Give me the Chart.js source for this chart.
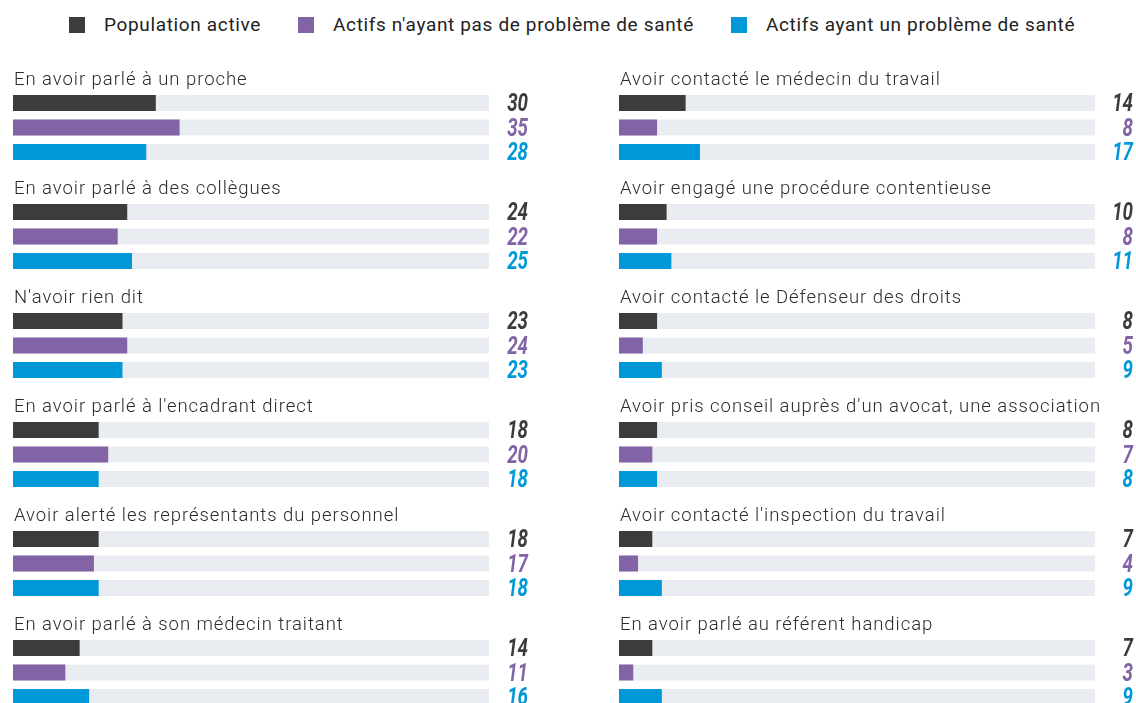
<!DOCTYPE html>
<html lang="fr">
<head>
  <meta charset="UTF-8">
  <title>Réactions face à une discrimination</title>
  <script src="https://cdn.jsdelivr.net/npm/chart.js"></script>
  <style>
    body {
      margin: 0;
      padding: 0;
      background: #fff;
      width: 1136px;
      height: 703px;
      overflow: hidden;
      position: relative;
      font-family: Roboto, "Noto Sans", sans-serif;
      color: #333;
    }
    .legend {
      position: absolute;
      top: 12px;
      left: 69px;
      display: flex;
      font-size: 19px;
      letter-spacing: 0.65px;
      line-height: 26px;
      color: #222;
    }
    .legend span.item { display: flex; align-items: center; margin-right: 37px; }
    .legend span.box { width: 16px; height: 16px; display: inline-block; margin-right: 19px; }
    .col { position: absolute; top: 60px; height: 680px; }
    #left { left: 0; width: 560px; }
    #right { left: 560px; width: 576px; }
  </style>
</head>
<body>
  <div class="legend" id="legend"></div>
  <div class="col" id="left"><canvas id="chartLeft"></canvas></div>
  <div class="col" id="right"><canvas id="chartRight"></canvas></div>

  <script>
    // series names and colours
    const seriesNames = ['Population active', "Actifs n'ayant pas de problème de santé", 'Actifs ayant un problème de santé'];
    const seriesColors = ['#3c3c3c', '#8163a6', '#0098d8'];

    // left column
    const leftLabels = [
      'En avoir parlé à un proche',
      'En avoir parlé à des collègues',
      "N'avoir rien dit",
      "En avoir parlé à l'encadrant direct",
      'Avoir alerté les représentants du personnel',
      'En avoir parlé à son médecin traitant'
    ];
    const leftPopulation = [30, 24, 23, 18, 18, 14];
    const leftSansProbleme = [35, 22, 24, 20, 17, 11];
    const leftAvecProbleme = [28, 25, 23, 18, 18, 16];

    // right column
    const rightLabels = [
      'Avoir contacté le médecin du travail',
      'Avoir engagé une procédure contentieuse',
      'Avoir contacté le Défenseur des droits',
      "Avoir pris conseil auprès d'un avocat, une association",
      "Avoir contacté l'inspection du travail",
      'En avoir parlé au référent handicap'
    ];
    const rightPopulation = [14, 10, 8, 8, 7, 7];
    const rightSansProbleme = [8, 8, 5, 7, 4, 3];
    const rightAvecProbleme = [17, 11, 9, 8, 9, 9];

    const trackColor = '#e9ecf1';

    // legend
    const legendEl = document.getElementById('legend');
    seriesNames.forEach((name, i) => {
      const item = document.createElement('span');
      item.className = 'item';
      item.innerHTML = '<span class="box" style="background:' + seriesColors[i] + '"></span>' + name;
      legendEl.appendChild(item);
    });

    // draws grey tracks behind bars, group titles and the values
    const decorations = {
      id: 'decorations',
      beforeDatasetsDraw(chart) {
        const ctx = chart.ctx;
        const x = chart.scales.x;
        const x0 = x.getPixelForValue(0);
        const x1 = x.getPixelForValue(100);
        ctx.save();
        ctx.fillStyle = trackColor;
        chart.data.datasets.forEach((ds, i) => {
          chart.getDatasetMeta(i).data.forEach(bar => {
            ctx.fillRect(x0, bar.y - bar.height / 2, x1 - x0, bar.height);
          });
        });
        ctx.restore();
      },
      afterDatasetsDraw(chart, args, opts) {
        const ctx = chart.ctx;
        const area = chart.chartArea;
        // values, condensed by squeezing horizontally
        const squeeze = 0.75;
        chart.data.datasets.forEach((ds, i) => {
          chart.getDatasetMeta(i).data.forEach((bar, j) => {
            ctx.save();
            ctx.translate(area.right + opts.valueOffset, bar.y + 8);
            ctx.scale(squeeze, 1);
            ctx.font = 'italic bold 25px Roboto, "DejaVu Sans", sans-serif';
            ctx.textAlign = 'right';
            ctx.textBaseline = 'alphabetic';
            ctx.fillStyle = ds.backgroundColor;
            ctx.fillText(ds.data[j], 0, 0);
            ctx.restore();
          });
        });
        // group titles
        ctx.save();
        ctx.font = '300 18.5px Roboto, "Noto Sans", sans-serif';
        ctx.letterSpacing = '0.95px';
        ctx.textAlign = 'left';
        ctx.textBaseline = 'alphabetic';
        ctx.fillStyle = '#2b2b2b';
        const first = chart.getDatasetMeta(0).data;
        chart.data.labels.forEach((lab, j) => {
          ctx.fillText(lab, area.left + 1, first[j].y - 18);
        });
        ctx.restore();
      }
    };

    function makeChart(id, labels, a, b, c, padLeft, padRight, valueOffset) {
      const series = [a, b, c];
      new Chart(document.getElementById(id), {
        type: 'bar',
        data: {
          labels: labels,
          datasets: series.map((d, i) => ({
            label: seriesNames[i],
            data: d,
            backgroundColor: seriesColors[i],
            borderWidth: 0,
            categoryPercentage: 0.674,
            barPercentage: 0.653
          }))
        },
        options: {
          indexAxis: 'y',
          responsive: true,
          maintainAspectRatio: false,
          animation: false,
          layout: { padding: { left: padLeft, right: padRight, top: 13, bottom: 13 } },
          scales: {
            x: { display: false, min: 0, max: 100 },
            y: { display: false }
          },
          plugins: {
            legend: { display: false },
            tooltip: { enabled: false },
            decorations: { valueOffset: valueOffset }
          }
        },
        plugins: [decorations]
      });
    }

    makeChart('chartLeft', leftLabels, leftPopulation, leftSansProbleme, leftAvecProbleme, 13, 71, 39);
    makeChart('chartRight', rightLabels, rightPopulation, rightSansProbleme, rightAvecProbleme, 59, 41, 38);
  </script>
</body>
</html>
